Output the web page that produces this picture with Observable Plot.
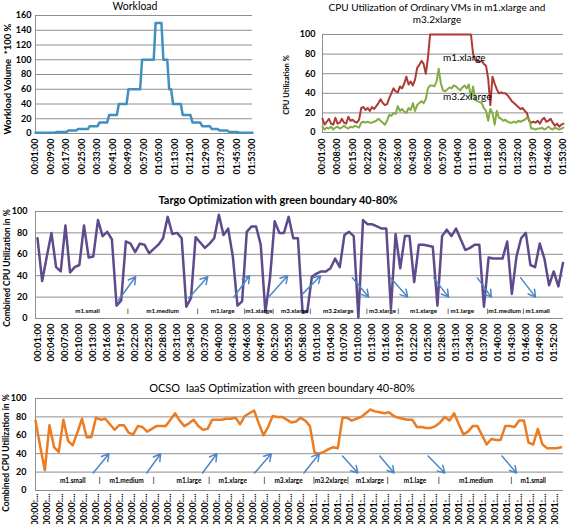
<!DOCTYPE html>
<html><head><meta charset="utf-8">
<script src="https://cdn.jsdelivr.net/npm/d3@7"></script>
<script src="https://cdn.jsdelivr.net/npm/@observablehq/plot@0.6"></script>
<style>
body{margin:0;background:#fff;}
#root{position:relative;width:567px;height:524px;overflow:hidden;font-family:Lato,"DejaVu Sans",sans-serif;color:#000;}
.p{position:absolute;}
.t{position:absolute;white-space:nowrap;transform:translate(-50%,-50%);text-align:center;}
.r{position:absolute;white-space:nowrap;transform:translate(-50%,-50%) rotate(-90deg);font-weight:bold;}
</style></head><body><div id="root"></div>
<script>
// ---------- data ----------
const workload = [1,1,1,1,1,1,1,1,1,1,1, 2,2,2,2,2,2, 4,4,4,4,4, 6,6,6,6,6,6, 10,10,10,10,10, 15,15,15,15,15, 25,25,25,25,25, 40,40,40,40,40, 60,60,60,60,60,60,60, 100,100,100,100,100,100,100, 150,150,150,150, 100,100,100, 60,60, 40,40,40,40,40, 25,25,25,25,25, 15,15,15,15,15, 10,10,10,10,10, 6,6,6,6, 4,4,4,4,4, 2,2,2,2,2, 1,1,1,1,1,1,1,1];
const workloadTicks = ["00:01:00","00:09:00","00:17:00","00:25:00","00:33:00","00:41:00","00:49:00","00:57:00","01:05:00","01:13:00","01:21:00","01:29:00","01:37:00","01:45:00","01:53:00"];
const workloadYTicks = [0,20,40,60,80,100,120,140,160];

const cpuM1xlarge = [14,8,11,14,9,8,15,9,10,14,10,9,16,12,13,11,10,13,
 25,26,23,25,22,26,24,27,30,34,30,28,29,35,40,45,42,41,47,45,50,57,49,52,48,54,66,69,73,70,60,76,
 100,100,100,100,100,100,100,100,100,100,100,100,100,100,100,100,100,100,100,100,
 80,74,73,72,73,70,68,55,28,57,50,44,40,41,40,40,38,35,32,30,28,26,24,25,22,20,12,10,11,10,12,9,13,15,11,12,14,10,7,9,6,8,9];
const cpuM32xlarge = [6,3,5,4,6,3,5,6,4,5,7,5,4,6,5,7,6,5,
 10,11,10,11,10,10,11,12,14,12,10,8,12,18,17,20,19,27,22,24,21,20,25,23,30,22,28,30,32,30,34,45,48,48,47,52,65,50,43,42,44,46,45,48,47,45,43,46,48,45,49,35,47,33,32,31,30,25,22,12,24,20,8,22,15,14,12,13,11,10,10,11,10,12,11,12,13,15,14,4,4,3,4,4,5,3,4,6,4,3,5,4,3,4,5];
const cpuTicks = ["00:01:00","00:08:00","00:15:00","00:22:00","00:29:00","00:36:00","00:43:00","00:50:00","00:57:00","01:04:00","01:11:00","01:18:00","01:25:00","01:32:00","01:39:00","01:46:00","01:53:00"];
const cpuYTicks = [0,20,40,60,80,100];
const cpuSeries = ["m1.xlarge","m3.2xlarge"];

const targo = [75,35,58,80,48,44,87,43,48,50,87,57,58,92,77,81,74,12,17,72,
 70,62,70,69,61,65,69,75,95,79,80,75,11,19,76,71,66,70,75,97,
 78,84,58,12,16,81,86,86,69,6,38,91,80,80,95,75,75,6,6,39,
 42,44,44,47,56,48,78,81,77,1,92,88,88,86,84,84,9,79,47,77,
 77,34,69,69,68,67,12,77,83,77,84,74,64,66,69,69,11,57,56,56,
 56,72,23,58,75,80,50,48,70,56,31,44,30,52];
const targoTicks = ["00:01:00","00:04:00","00:07:00","00:10:00","00:13:00","00:16:00","00:19:00","00:22:00","00:25:00","00:28:00","00:31:00","00:34:00","00:37:00","00:40:00","00:43:00","00:46:00","00:49:00","00:52:00","00:55:00","00:58:00","01:01:00","01:04:00","01:07:00","01:10:00","01:13:00","01:16:00","01:19:00","01:22:00","01:25:00","01:28:00","01:31:00","01:34:00","01:37:00","01:40:00","01:43:00","01:46:00","01:49:00","01:52:00"];
const targoLabels = ["m1.small","|","m1.medium","|","m1.large","|m1.xlarge|","m3.xlarge |","m3.2xlarge","| m3.xlarge |","m1.xlarge","| m1.large","|m1.medium | m1.small"];
const targoLabelAt = [11.75,20.4,27.9,35.4,40.8,48.6,56.6,65.7,75.2,84,92,104.4];
const targoArrowsUp = [[18.4,17,22.1,39],[33.5,19,37.6,39],[43.2,20,46.6,40],[50.7,20,54.8,40],[58,23,61.9,40]];
const targoArrowsDown = [[68.7,38,72.2,20],[76.9,38,80.6,20],[86.2,38,89.4,20],[95.6,38,98.6,20],[104.9,38,108.1,20]];

const ocso = [76,48,22,71,47,42,77,54,49,63,78,58,58,79,77,78,72,66,71,71,
 63,61,70,69,64,67,70,70,70,77,84,76,70,73,77,70,66,67,77,77,
 77,78,78,79,72,81,84,87,73,60,69,81,80,80,77,74,75,79,76,70,
 41,40,42,45,47,46,79,79,76,78,80,84,88,86,85,84,85,81,79,78,
 77,77,69,69,68,68,70,74,80,76,84,72,61,64,70,70,60,50,56,55,
 55,70,70,69,76,76,52,50,67,50,46,46,46,47];
const ocsoTicks = ["00:00:...","00:00:...","00:00:...","00:00:...","00:00:...","00:00:...","00:00:...","00:00:...","00:00:...","00:00:...","00:00:...","00:00:...","00:00:...","00:00:...","00:00:...","00:00:...","00:00:...","00:00:...","00:00:...","00:00:...","00:00:...","00:00:...","00:00:...",
 "00:01:...","00:01:...","00:01:...","00:01:...","00:01:...","00:01:...","00:01:...","00:01:...","00:01:...","00:01:...","00:01:...","00:01:...","00:01:...","00:01:...","00:01:...","00:01:...","00:01:...","00:01:...","00:01:...","00:01:...","00:01:..."];
const ocsoLabels = ["m1.small","|","m1.medium","|","m1.large","|","m1.xlarge","|","m3.xlarge","|m3.2xlarge|","m1.xlarge","|","m1.lage","|","m1.medium","|","m1.small"];
const ocsoLabelAt = [9,14.8,20.6,26.4,34,38.3,43.4,50.2,55.4,64.5,72.9,76.7,82.6,87.7,95.7,103.3,108];
const ocsoArrowsUp = [[13.4,19,16.8,40],[24.9,19,27.9,40],[36.9,19,40,40],[48.1,19,51.7,40],[58.7,19,62,40]];
const ocsoArrowsDown = [[67,37.5,70.3,19],[75,37.5,78.1,19],[85.4,37.5,89,19],[101.3,37.5,104.4,19]];
const pctYTicks = [0,20,40,60,80,100];

// ---------- helpers ----------
const FONT = "Lato, 'DejaVu Sans', sans-serif";
const GRID = "#8e8e8e";
const toMin = s => { const p = s.split(":"); return (+p[0]) * 60 + (+p[1]); };
const root = document.getElementById("root");
function place(svg, left, top) { svg.style.position = "absolute"; svg.style.left = left + "px"; svg.style.top = top + "px"; root.appendChild(svg); }
function html(cls, text, x, y, css) { const d = document.createElement("div"); d.className = cls; d.innerHTML = text; d.style.left = x + "px"; d.style.top = y + "px"; Object.assign(d.style, css || {}); root.appendChild(d); }
const baseStyle = {fontFamily: FONT, fontSize: "9px", fontWeight: "bold", color: "#000", background: "transparent", overflow: "visible"};
const idx = (d, i) => i + 1;
const arrowMark = (arr) => Plot.arrow(arr, {x1: d => d[0], y1: d => d[1], x2: d => d[2], y2: d => d[3], stroke: "#4f86c6", strokeWidth: 1.5, headLength: 8});

// ---------- chart 1: Workload ----------
const wlMap = new Map(workloadTicks.map(s => [toMin(s), s]));
place(Plot.plot({
  width: 262, height: 178, marginLeft: 35, marginRight: 10, marginTop: 15, marginBottom: 45,
  style: baseStyle,
  x: {type: "linear", domain: [1, 113]},
  y: {domain: [0, 160]},
  marks: [
    Plot.ruleY(workloadYTicks, {stroke: GRID, strokeWidth: 1}),
    Plot.frame({anchor: "left", stroke: GRID}),
    Plot.lineY(workload, {x: idx, y: d => d, stroke: "#4290c0", strokeWidth: 2.5}),
    Plot.axisY({ticks: workloadYTicks, tickSize: 0, tickPadding: 4, label: null}),
    Plot.axisX({ticks: [...wlMap.keys()], tickFormat: d => wlMap.get(d), tickRotate: -90, tickSize: 0, tickPadding: 5, label: null})
  ]
}), 0, 0);
html("t", "Workload", 135, 6, {fontSize: "10.5px"});
html("r", "Workload Volume &nbsp;*100 %", 7, 79, {fontSize: "9.5px"});

// ---------- chart 2: CPU utilization ----------
const cpuMap = new Map(cpuTicks.map(s => [toMin(s), s]));
place(Plot.plot({
  width: 287, height: 175, marginLeft: 42, marginRight: 4, marginTop: 34, marginBottom: 43,
  style: baseStyle,
  x: {type: "linear", domain: [1, 113]},
  y: {domain: [0, 100]},
  marks: [
    Plot.ruleY(cpuYTicks, {stroke: GRID, strokeWidth: 1}),
    Plot.frame({anchor: "left", stroke: GRID}),
    Plot.lineY(cpuM1xlarge, {x: idx, y: d => d, stroke: "#ad3a35", strokeWidth: 2}),
    Plot.lineY(cpuM32xlarge, {x: idx, y: d => d, stroke: "#84ac44", strokeWidth: 2}),
    Plot.text([cpuSeries[0]], {x: 57, y: 76, text: d => d, textAnchor: "start", fontSize: 10, fontWeight: "normal", fill: "#000"}),
    Plot.text([cpuSeries[1]], {x: 57, y: 36, text: d => d, textAnchor: "start", fontSize: 10, fontWeight: "normal", fill: "#000"}),
    Plot.axisY({ticks: cpuYTicks, tickSize: 0, tickPadding: 7, label: null}),
    Plot.axisX({ticks: [...cpuMap.keys()], tickFormat: d => cpuMap.get(d), tickRotate: -90, tickSize: 0, tickPadding: 6, label: null})
  ]
}), 280, 0);
html("t", "CPU Utilization of Ordinary VMs in m1.xlarge and<br>m3.2xlarge", 437, 13, {fontSize: "10px", lineHeight: "11.5px"});
html("r", "CPU Utilization %", 286, 85, {fontSize: "7.5px"});

// ---------- chart 3: Targo ----------
const tgMap = new Map(targoTicks.map(s => [toMin(s), s]));
place(Plot.plot({
  width: 567, height: 165, marginLeft: 35, marginRight: 4, marginTop: 6, marginBottom: 52,
  style: baseStyle,
  x: {type: "linear", domain: [1, 114], insetLeft: 2, insetRight: 0.5},
  y: {domain: [0, 100]},
  marks: [
    Plot.ruleY(pctYTicks, {stroke: GRID, strokeWidth: 1}),
    Plot.frame({anchor: "left", stroke: GRID}),
    Plot.lineY(targo, {x: idx, y: d => d, stroke: "#5e4a8c", strokeWidth: 2.5}),
    arrowMark(targoArrowsUp),
    arrowMark(targoArrowsDown),
    Plot.text(targoLabels, {x: (d, i) => targoLabelAt[i], text: d => d, frameAnchor: "bottom", dy: -6, fontSize: 6.2, fontWeight: "bold", fill: "#000"}),
    Plot.axisY({ticks: pctYTicks, tickSize: 0, tickPadding: 8, label: null}),
    Plot.axisX({ticks: [...tgMap.keys()], tickFormat: d => tgMap.get(d), tickRotate: -90, tickSize: 0, tickPadding: 5, label: null, fontSize: 9.5})
  ]
}), 0, 205);
html("t", "Targo Optimization with green boundary 40-80%", 278, 199, {fontSize: "11px", fontWeight: "bold"});
html("r", "Combined CPU Utilization in %", 7, 268, {fontSize: "8.5px"});

// ---------- chart 4: OCSO ----------
const ocPos = ocsoTicks.map((s, i) => 1 + i * 2.6);
const ocMap = new Map(ocPos.map((p, i) => [p, ocsoTicks[i]]));
place(Plot.plot({
  width: 567, height: 132, marginLeft: 35, marginRight: 4, marginTop: 6, marginBottom: 34,
  style: baseStyle,
  x: {type: "linear", domain: [1, 114], insetRight: 2.4},
  y: {domain: [0, 100]},
  marks: [
    Plot.ruleY(pctYTicks, {stroke: GRID, strokeWidth: 1}),
    Plot.frame({anchor: "left", stroke: GRID}),
    Plot.lineY(ocso, {x: idx, y: d => d, stroke: "#ec7c22", strokeWidth: 2.5}),
    arrowMark(ocsoArrowsUp),
    arrowMark(ocsoArrowsDown),
    Plot.text(ocsoLabels, {x: (d, i) => ocsoLabelAt[i], text: d => d, frameAnchor: "bottom", dy: -8, fontSize: 6.5, fontWeight: "bold", fill: "#000"}),
    Plot.axisY({ticks: pctYTicks, tickSize: 0, tickPadding: 9, label: null}),
    Plot.axisX({ticks: ocPos, tickFormat: d => ocMap.get(d), tickRotate: -90, tickSize: 0, tickPadding: 3, label: null, fontSize: 9})
  ]
}), 0, 392);
html("t", "OCSO &nbsp;IaaS Optimization with green boundary 40-80%", 282, 387, {fontSize: "11px"});
html("r", "Combined CPU Utilization in %", 6, 453, {fontSize: "8.5px"});
</script></body></html>
